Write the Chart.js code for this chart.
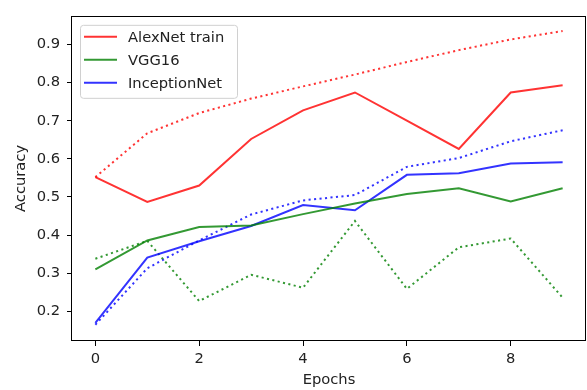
<!DOCTYPE html>
<html lang="en">
<head>
    <meta charset="UTF-8">
    <title>Accuracy per epoch</title>
    <script src="https://cdn.jsdelivr.net/npm/chart.js"></script>
    <style>
        body { margin: 0; background-color: white; }
        .container { width: 587px; height: 390px; }
    </style>
</head>
<body>
    <div class="container">
        <canvas id="grafico" width="587" height="390"></canvas>
    </div>

    <script>
        // Datos
        const epochs = [0, 1, 2, 3, 4, 5, 6, 7, 8, 9];
        const xTicks = [0, 2, 4, 6, 8];
        const yTicks = [0.2, 0.3, 0.4, 0.5, 0.6, 0.7, 0.8, 0.9];
        const leyenda = ['AlexNet train', 'VGG16', 'InceptionNet'];

        const alexSolid = [0.552, 0.487, 0.530, 0.652, 0.727, 0.774, 0.700, 0.626, 0.774, 0.793];
        const alexDotted = [0.552, 0.667, 0.720, 0.758, 0.790, 0.821, 0.854, 0.885, 0.913, 0.935];
        const vggSolid = [0.310, 0.386, 0.421, 0.425, 0.455, 0.483, 0.508, 0.523, 0.488, 0.523];
        const vggDotted = [0.338, 0.385, 0.227, 0.296, 0.262, 0.437, 0.259, 0.368, 0.391, 0.236];
        const incSolid = [0.170, 0.341, 0.384, 0.424, 0.479, 0.465, 0.558, 0.562, 0.588, 0.591];
        const incDotted = [0.165, 0.313, 0.386, 0.454, 0.491, 0.505, 0.579, 0.602, 0.646, 0.675];

        const rojo = 'rgba(255, 0, 0, 0.8)';
        const verde = 'rgba(0, 128, 0, 0.8)';
        const azul = 'rgba(0, 0, 255, 0.8)';
        const fuente = "'DejaVu Sans', sans-serif";
        const tam = 14.7;
        const punteado = [2.1, 3.4];

        function serie(valores, color, label, dotted) {
            return {
                label: label,
                data: valores.map((v, i) => ({ x: epochs[i], y: v })),
                borderColor: color,
                borderWidth: 2,
                borderDash: dotted ? punteado : [],
                borderCapStyle: 'butt',
                pointRadius: 0,
                tension: 0,
                fill: false,
            };
        }

        // Marco alrededor del area de datos
        const marco = {
            id: 'marco',
            afterDraw(chart) {
                const { ctx, chartArea: a } = chart;
                ctx.save();
                ctx.strokeStyle = '#000';
                ctx.lineWidth = 1;
                ctx.strokeRect(Math.round(a.left) - 0.5, Math.round(a.top) + 0.5,
                    Math.round(a.right - a.left), Math.round(a.bottom - a.top) - 1);
                ctx.restore();
            }
        };

        // Leyenda estilo matplotlib dentro del grafico
        const leyendaInterna = {
            id: 'leyendaInterna',
            afterDatasetsDraw(chart) {
                const ctx = chart.ctx;
                const a = chart.chartArea;
                const x = a.left + 8, y = a.top + 9, w = 157, h = 73;
                ctx.save();
                ctx.beginPath();
                ctx.roundRect(x + 0.5, y + 0.5, w, h, 3);
                ctx.fillStyle = 'rgba(255, 255, 255, 0.8)';
                ctx.fill();
                ctx.strokeStyle = '#d0d0d0';
                ctx.lineWidth = 1;
                ctx.stroke();
                ctx.font = tam + 'px ' + fuente;
                ctx.textBaseline = 'middle';
                ctx.fillStyle = '#222';
                const items = chart.data.datasets.filter(d => leyenda.includes(d.label));
                items.forEach((d, i) => {
                    const cy = y + 12 + i * 23;
                    ctx.beginPath();
                    ctx.moveTo(x + 4, cy);
                    ctx.lineTo(x + 37, cy);
                    ctx.strokeStyle = d.borderColor;
                    ctx.lineWidth = 2;
                    ctx.stroke();
                    ctx.fillText(d.label, x + 48, cy + 1);
                });
                ctx.restore();
            }
        };

        const ctx = document.getElementById('grafico').getContext('2d');
        new Chart(ctx, {
            type: 'line',
            data: {
                datasets: [
                    serie(alexSolid, rojo, leyenda[0], false),
                    serie(vggSolid, verde, leyenda[1], false),
                    serie(incSolid, azul, leyenda[2], false),
                    serie(alexDotted, rojo, '', true),
                    serie(vggDotted, verde, '', true),
                    serie(incDotted, azul, '', true),
                ]
            },
            options: {
                responsive: false,
                animation: false,
                layout: { padding: { top: 8, right: 1, left: 0, bottom: 0 } },
                plugins: {
                    legend: { display: false },
                    tooltip: { enabled: false },
                },
                scales: {
                    x: {
                        type: 'linear',
                        min: -0.45,
                        max: 9.45,
                        afterBuildTicks: s => { s.ticks = xTicks.map(v => ({ value: v })); },
                        afterFit: s => { s.height = 49; },
                        border: { display: false },
                        grid: { drawOnChartArea: false, drawTicks: true, tickLength: 5, tickColor: '#000' },
                        ticks: { font: { family: fuente, size: tam }, color: '#222', padding: 4, maxRotation: 0 },
                        title: { display: true, text: 'Epochs', font: { family: fuente, size: tam }, color: '#222', padding: { top: 0, bottom: 1 } },
                    },
                    y: {
                        min: 0.1223,
                        max: 0.975,
                        afterBuildTicks: s => { s.ticks = yTicks.map(v => ({ value: v })); },
                        afterFit: s => { s.width = 72; },
                        border: { display: false },
                        grid: { drawOnChartArea: false, drawTicks: true, tickLength: 5, tickColor: '#000' },
                        ticks: { font: { family: fuente, size: tam }, color: '#222', padding: 7, callback: v => v.toFixed(1) },
                        title: { display: true, text: 'Accuracy', font: { family: fuente, size: tam }, color: '#222', padding: { top: 12, bottom: 0 } },
                    }
                }
            },
            plugins: [marco, leyendaInterna]
        });
    </script>
</body>
</html>
